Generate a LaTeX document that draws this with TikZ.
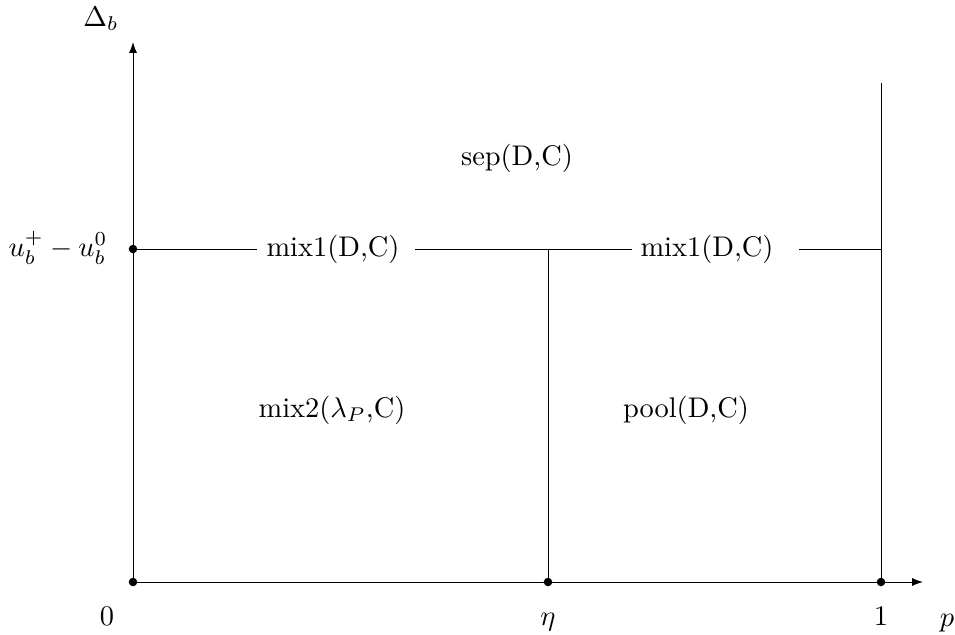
\documentclass[tikz,border=0pt]{standalone}
\usetikzlibrary{arrows.meta}
\begin{document}
\begin{tikzpicture}[x=0.352pt,y=-0.352pt,
  axis/.style={-{Latex[length=3.8pt,width=2.8pt]}},
  ln/.style={line width=0.35pt},
  dot/.style={circle,fill=black,inner sep=0pt,minimum size=3pt},
  lab/.style={inner sep=0pt}]
\useasboundingbox (0,0) rectangle (955,634);
% points
\node[dot] (O) at (133,582) {};
\node[dot] (U) at (133,249) {};
\node[dot] (E) at (548,582) {};
\node[dot] (I) at (881,582) {};
\coordinate (Ytop) at (133,42);
\coordinate (Xend) at (923,582);
\coordinate (Etop) at (548,249);
\coordinate (Itop) at (881,83);
\coordinate (Imid) at (881,249);
\coordinate (h1) at (257,249);
\coordinate (h2) at (415,249);
\coordinate (h3) at (632,249);
\coordinate (h4) at (799,249);
% axes
\draw[ln,axis] (O.center) -- (Ytop);
\draw[ln,axis] (O.center) -- (Xend);
% lines
\draw[ln] (E.center) -- (Etop);
\draw[ln] (I.center) -- (Itop);
\draw[ln] (U.center) -- (h1);
\draw[ln] (h2) -- (h3);
\draw[ln] (h4) -- (Imid);
% labels
\node[lab] (dl) at (101,19) {$\Delta_b$};
\node[lab,anchor=base] (ul) at (58,256) {$u_b^+-u_b^0$};
\node[lab,anchor=base] (zl) at (107,625) {$0$};
\node[lab,anchor=base] (el) at (548,625) {$\eta$};
\node[lab,anchor=base] (ol) at (881,625) {$1$};
\node[lab,anchor=base] (pl) at (947,626) {$p$};
\node[lab,anchor=base] (sep) at (517,165) {sep(D,C)};
\node[lab,anchor=base] (m1) at (333,256) {mix1(D,C)};
\node[lab,anchor=base] (m2) at (707,256) {mix1(D,C)};
\node[lab,anchor=base] (mx) at (332,417) {mix2($\lambda_P$,C)};
\node[lab,anchor=base] (po) at (686,417) {pool(D,C)};
\end{tikzpicture}
\end{document}
